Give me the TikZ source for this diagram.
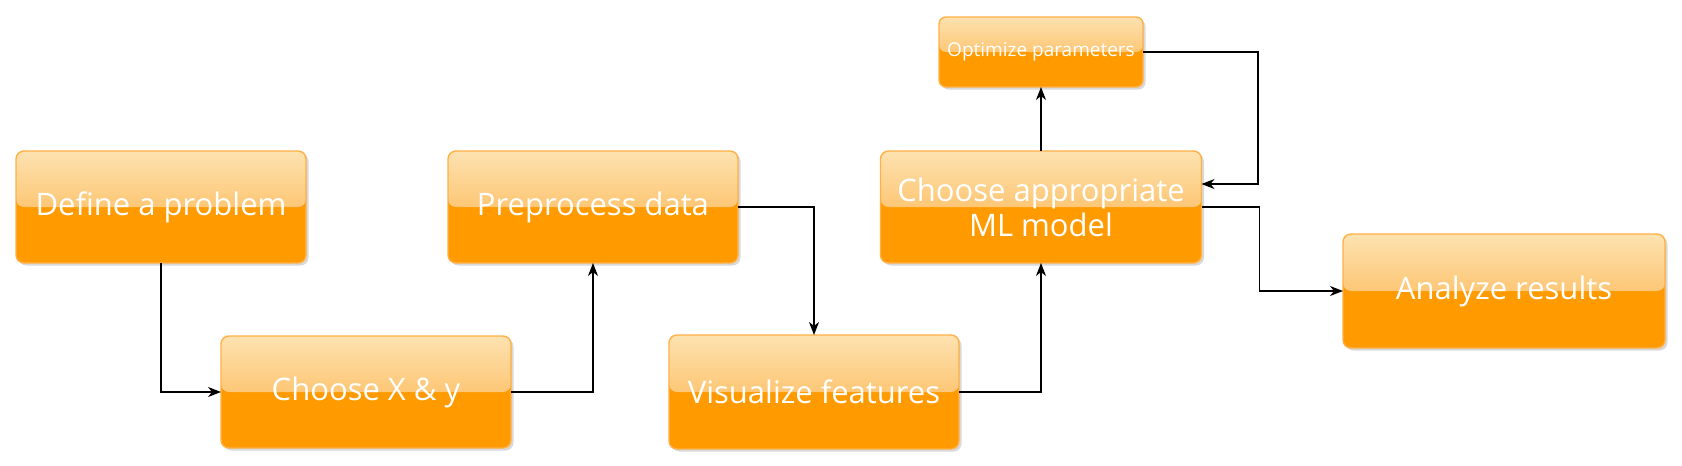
\documentclass[tikz,border=0pt]{standalone}
\usepackage{fontspec}
\setmainfont{Open Sans}
\usetikzlibrary{positioning, shadows, arrows.meta}
\definecolor{boxorange}{RGB}{255,154,0}
\definecolor{glosstop}{RGB}{253,226,176}
\definecolor{glossmid}{RGB}{253,172,60}
\definecolor{boxedge}{RGB}{255,176,70}

\begin{document}
\begin{tikzpicture}[x=1pt, y=-1pt,
  stepbox/.style={rounded corners=8pt, draw=boxedge, line width=1.4pt, fill=boxorange,
    text=white, inner sep=0pt, outer sep=0pt, align=center,
    minimum width=290pt, minimum height=112pt, font=\fontsize{31}{35}\selectfont,
    drop shadow={opacity=0.3, shadow xshift=2.5pt, shadow yshift=-2.5pt},
    path picture={\fill[top color=glosstop, bottom color=glossmid]
      (path picture bounding box.north west) rectangle (path picture bounding box.east);}},
  flow/.style={-{Stealth[length=13pt, width=10pt, inset=4pt]}, line width=1.3pt}]
  \useasboundingbox (0,0) rectangle (1682,466);
  \node[stepbox] (def) at (161,207) {Define a problem};
  \node[stepbox] (xy) at (366,392) {Choose X \& y};
  \node[stepbox] (prep) at (593,207) {Preprocess data};
  \node[stepbox, minimum height=114pt] (vis) at (814,392) {Visualize features};
  \node[stepbox, minimum width=321pt] (ml) at (1041,207) {Choose appropriate\\ML model};
  \node[stepbox, minimum width=204pt, minimum height=70pt, rounded corners=7pt,
    font=\fontsize{19}{22}\selectfont] (opt) at (1041,52) {Optimize parameters};
  \node[stepbox, minimum width=322pt, minimum height=114pt] (ana) at (1504,291) {Analyze results};
  \draw[flow] (def.south) |- (xy.west);
  \draw[flow] (xy.east) -| (prep.south);
  \draw[flow] (prep.east) -| (vis.north);
  \draw[flow] (vis.east) -| (ml.south);
  \draw[flow] (ml.north) -- (opt.south);
  \draw[flow] (opt.east) -- ++(115,0) |- ([yshift=23pt]ml.east);
  \draw[flow] (ml.east) -- ++(58,0) |- (ana.west);
\end{tikzpicture}
\end{document}
